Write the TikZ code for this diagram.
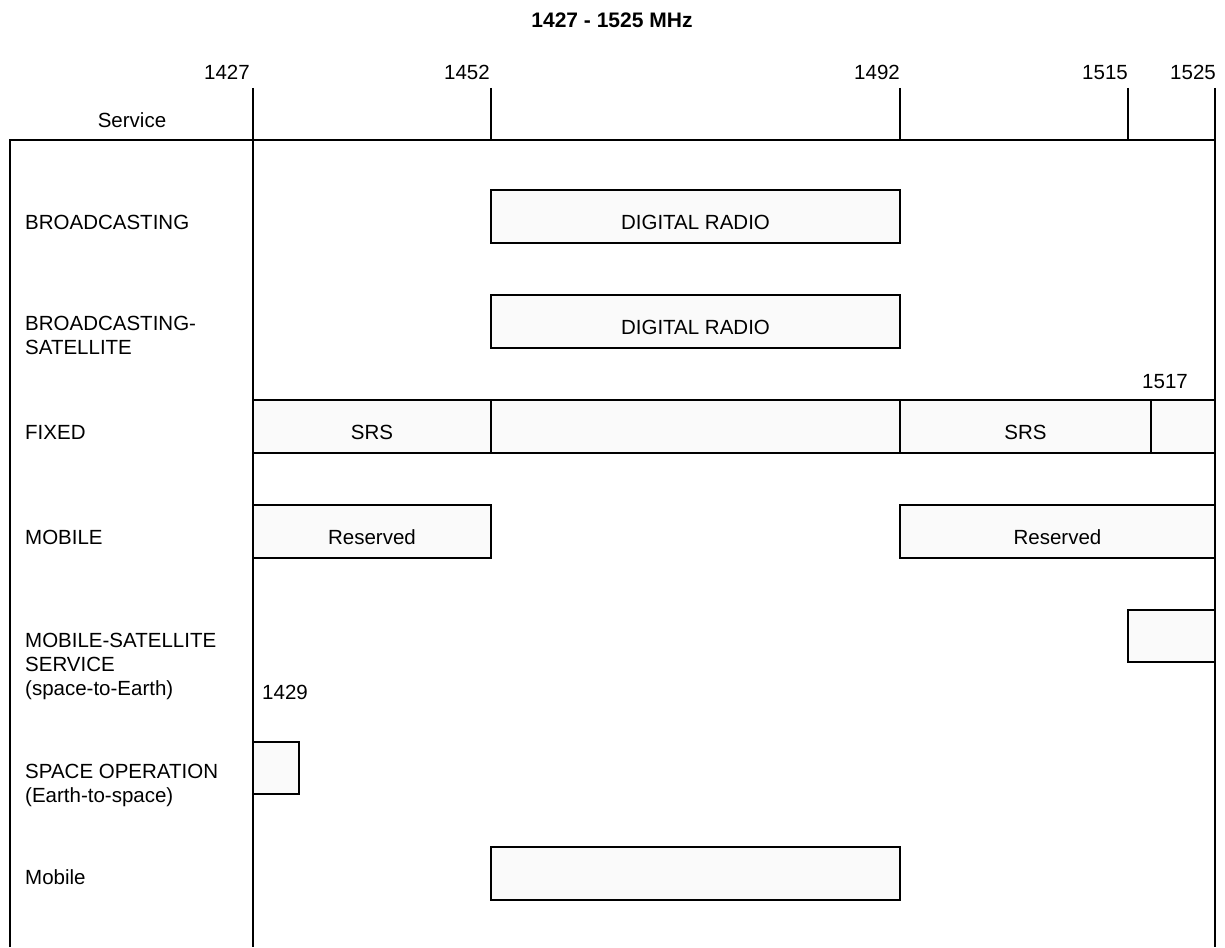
\documentclass[tikz,border=0pt]{standalone}
\usepackage{fontspec}
\setmainfont{Liberation Sans}
\definecolor{bandfill}{HTML}{FAFAFA}
\begin{document}
\begin{tikzpicture}[x=1pt,y=-1pt,
  ln/.style={line width=2.6pt},
  txt/.style={inner sep=0pt,font=\fontsize{20.5}{24}\selectfont},
  lbl/.style={txt,anchor=west,align=left},
  freq/.style={txt,anchor=base east},
  band/.style={ln,draw=black,fill=bandfill,outer sep=0pt,inner sep=0pt,anchor=north west},
  bandtxt/.style={txt,yshift=-6pt}]
\useasboundingbox (0,0) rectangle (1225,947);
% title
\node[txt,font=\bfseries\fontsize{21}{25}\selectfont] (title) at (612,20) {1427 - 1525 MHz};
% frequency labels
\node[freq] (f1427) at (250,80) {1427};
\node[freq] (f1452) at (490,80) {1452};
\node[freq] (f1492) at (900,80) {1492};
\node[freq] (f1515) at (1128,80) {1515};
\node[freq] (f1525) at (1216,80) {1525};
\node[txt] (service) at (132,120) {Service};
% frame
\draw[ln] (10,947) -- (10,140) -- (1215,140);
\draw[ln] (253,88) -- (253,947);
\draw[ln] (1215,88) -- (1215,947);
\draw[ln] (491,88) -- (491,140);
\draw[ln] (900,88) -- (900,140);
\draw[ln] (1128,88) -- (1128,140);
% bands
\node[band,minimum width=409pt,minimum height=53pt] (dr1) at (491,190) {};
\node[band,minimum width=409pt,minimum height=53pt] (dr2) at (491,295) {};
\node[band,minimum width=238pt,minimum height=53pt] (fx1) at (253,400) {};
\node[band,minimum width=409pt,minimum height=53pt] (fx2) at (491,400) {};
\node[band,minimum width=251pt,minimum height=53pt] (fx3) at (900,400) {};
\node[band,minimum width=64pt,minimum height=53pt] (fx4) at (1151,400) {};
\node[band,minimum width=238pt,minimum height=53pt] (mo1) at (253,505) {};
\node[band,minimum width=315pt,minimum height=53pt] (mo2) at (900,505) {};
\node[band,minimum width=87pt,minimum height=52pt] (mss) at (1128,610) {};
\node[band,minimum width=46pt,minimum height=52pt] (so) at (253,742) {};
\node[band,minimum width=409pt,minimum height=53pt] (mob) at (491,847) {};
% band texts
\node[bandtxt] (t1) at (dr1.center) {DIGITAL RADIO};
\node[bandtxt] (t2) at (dr2.center) {DIGITAL RADIO};
\node[bandtxt] (t3) at (fx1.center) {SRS};
\node[bandtxt] (t4) at (fx3.center) {SRS};
\node[bandtxt] (t5) at (mo1.center) {Reserved};
\node[bandtxt] (t6) at (mo2.center) {Reserved};
% extra frequency labels
\node[txt] (f1517) at (1165,382) {1517};
\node[txt,anchor=west] (f1429) at (262,692) {1429};
% row labels
\node[lbl] (r1) at (25,222) {BROADCASTING};
\node[lbl] (r2) at (25,335) {BROADCASTING-\\SATELLITE};
\node[lbl] (r3) at (25,432) {FIXED};
\node[lbl] (r4) at (25,537) {MOBILE};
\node[lbl] (r5) at (25,666) {MOBILE-SATELLITE\\SERVICE\\(space-to-Earth)};
\node[lbl] (r6) at (25,785) {SPACE OPERATION\\(Earth-to-space)};
\node[lbl] (r7) at (25,877) {Mobile};
\end{tikzpicture}
\end{document}
